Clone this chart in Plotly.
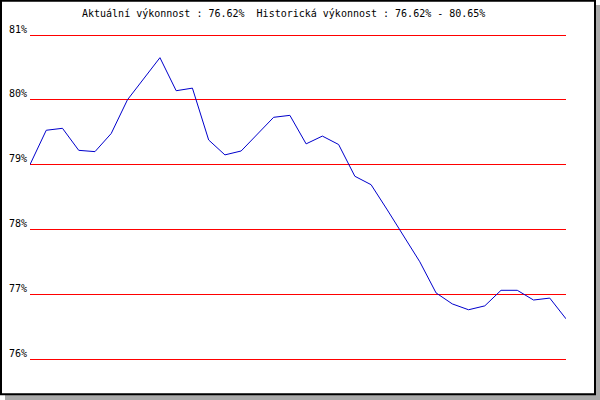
import plotly.graph_objects as go

# data
values = [79.00, 79.53, 79.56, 79.22, 79.20, 79.48, 80.00, 80.32, 80.65, 80.14,
          80.18, 79.38, 79.15, 79.21, 79.47, 79.73, 79.76, 79.32, 79.44, 79.31,
          78.82, 78.69, 78.30, 77.89, 77.50, 77.02, 76.85, 76.76, 76.82, 77.06,
          77.06, 76.91, 76.94, 76.62]
periods = list(range(len(values)))
tick_vals = [76, 77, 78, 79, 80, 81]
tick_text = ["76%", "77%", "78%", "79%", "80%", "81%"]
title_text = "Aktuální výkonnost : 76.62%  Historická výkonnost : 76.62% - 80.65%"

W, H = 600, 400
L, R, T, B = 30, 34, 31, 37
pw, ph = W - L - R, H - T - B
ppu = 324 / 5.0
ymin = 76 - 4 / ppu
ymax = 81 + 4 / ppu


def fx(px):
    return (px - L) / pw


def fy(py):
    return (H - B - py) / ph


fig = go.Figure()
fig.add_trace(go.Scatter(x=periods, y=values, mode="lines",
                         line=dict(color="#0000cc", width=1),
                         hoverinfo="skip", showlegend=False))

shapes = [
    # shadow
    dict(type="rect", xref="paper", yref="paper", x0=fx(5), x1=fx(600),
         y0=fy(5), y1=fy(400), fillcolor="#aaaaaa", line=dict(width=0), layer="below"),
    # frame
    dict(type="rect", xref="paper", yref="paper", x0=fx(1), x1=fx(595),
         y0=fy(0.8), y1=fy(394.3), fillcolor="white",
         line=dict(color="black", width=2), layer="below"),
]

fig.update_layout(
    width=W, height=H,
    margin=dict(l=L, r=R, t=T, b=B, pad=0, autoexpand=False),
    paper_bgcolor="white", plot_bgcolor="rgba(0,0,0,0)",
    shapes=shapes,
    showlegend=False,
    font=dict(family="DejaVu Sans Mono", size=10, color="black"),
    xaxis=dict(range=[0, len(values) - 1], visible=False, showgrid=False, zeroline=False,
               fixedrange=True, automargin=False),
    yaxis=dict(range=[ymin, ymax], tickvals=tick_vals, ticktext=tick_text,
               showgrid=True, gridcolor="red", gridwidth=1, zeroline=False,
               showline=False, ticks="", ticklabelshift=-6, ticklabelstandoff=2,
               tickfont=dict(family="DejaVu Sans Mono", size=10, color="black"),
               fixedrange=True, automargin=False),
    annotations=[dict(text=title_text, xref="paper", yref="paper",
                      x=fx(283), y=fy(13.5), xanchor="center", yanchor="middle",
                      showarrow=False,
                      font=dict(family="DejaVu Sans Mono", size=10, color="black"))],
)

fig.write_html("out.html", config={"displayModeBar": False, "staticPlot": True},
               post_script="document.body.style.margin='0';")
